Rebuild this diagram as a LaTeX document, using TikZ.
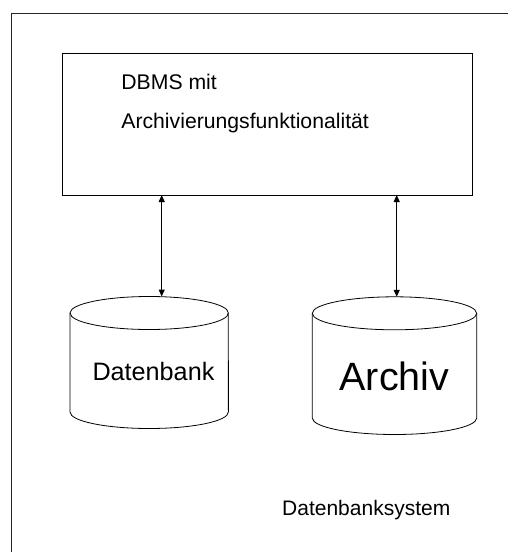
\documentclass[tikz,border=0pt]{standalone}
\usepackage{fontspec}
\setmainfont{Liberation Sans}
\usetikzlibrary{arrows.meta}
\begin{document}
\begin{tikzpicture}[x=1pt,y=-1pt,
  frame/.style={draw=black!85,line width=1.4pt},
  boxline/.style={draw=black,line width=1pt},
  cyl/.style={draw=black,line width=0.8pt},
  conn/.style={draw=black,line width=1pt,{Triangle[length=7pt,width=6pt]}-{Triangle[length=7pt,width=6pt]}},
  lbl/.style={anchor=base west,inner sep=0pt,text=black}]
\useasboundingbox (0,0) rectangle (508,552);
\clip (0,0) rectangle (508,552);
% outer frame (open to the right and bottom)
\draw[frame] (11.7,560) -- (11.7,13.3) -- (520,13.3);
% DBMS box
\node[boxline,rectangle,anchor=north west,minimum width=410pt,minimum height=141.7pt,inner sep=0pt] (dbms) at (61.7,53.3) {};
\node[lbl,font=\fontsize{21.2}{25}\selectfont] (t1) at (121.2,89.3) {DBMS mit};
\node[lbl,font=\fontsize{21.2}{25}\selectfont] (t2) at (121.2,128.3) {Archivierungsfunktionalität};
% Datenbank cylinder
\draw[cyl] (149.2,313) ellipse [x radius=79.2, y radius=16.5];
\draw[cyl] (70,313) -- (70,412) arc[start angle=180,end angle=0,x radius=79.2,y radius=16.5] -- (228.3,313);
\coordinate (dbtop) at (161.7,296.5);
\node[lbl,font=\fontsize{25.2}{30}\selectfont] (db) at (92.3,380.7) {Datenbank};
% Archiv cylinder
\draw[cyl] (394.5,313.3) ellipse [x radius=82.2, y radius=16.5];
\draw[cyl] (312.3,313.3) -- (312.3,418) arc[start angle=180,end angle=0,x radius=82.2,y radius=16.5] -- (476.7,313.3);
\coordinate (artop) at (396.7,296.8);
\node[lbl,font=\fontsize{39.5}{48}\selectfont] (ar) at (339.3,390) {Archiv};
% connectors
\coordinate (b1) at (161.7,195);
\coordinate (b2) at (396.7,195);
\draw[conn] (b1) -- (dbtop);
\draw[conn] (b2) -- (artop);
% system label
\node[lbl,font=\fontsize{21}{25}\selectfont] (sys) at (282,515.7) {Datenbanksystem};
\end{tikzpicture}
\end{document}
